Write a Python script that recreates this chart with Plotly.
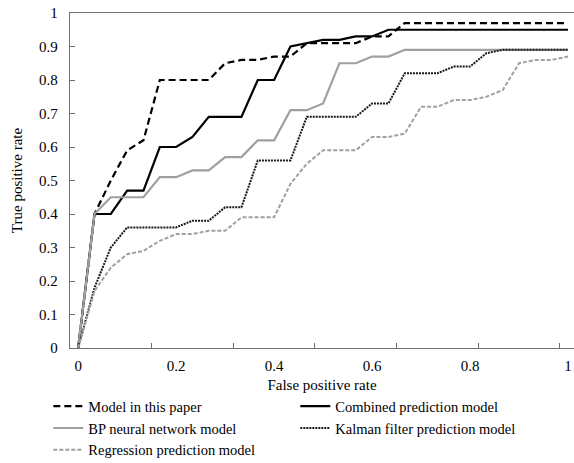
import plotly.graph_objects as go

# 31 evenly spaced false-positive-rate categories (0, 1/30, ..., 1)
n_points = 31
fpr = [k / 30 for k in range(n_points)]

model_paper = [0, 0.40, 0.50, 0.59, 0.62, 0.80, 0.80, 0.80, 0.80, 0.85, 0.86,
               0.86, 0.87, 0.87, 0.91, 0.91, 0.91, 0.91, 0.93, 0.93, 0.97,
               0.97, 0.97, 0.97, 0.97, 0.97, 0.97, 0.97, 0.97, 0.97, 0.97]
combined = [0, 0.40, 0.40, 0.47, 0.47, 0.60, 0.60, 0.63, 0.69, 0.69, 0.69,
            0.80, 0.80, 0.90, 0.91, 0.92, 0.92, 0.93, 0.93, 0.95, 0.95,
            0.95, 0.95, 0.95, 0.95, 0.95, 0.95, 0.95, 0.95, 0.95, 0.95]
bp_nn = [0, 0.40, 0.45, 0.45, 0.45, 0.51, 0.51, 0.53, 0.53, 0.57, 0.57,
         0.62, 0.62, 0.71, 0.71, 0.73, 0.85, 0.85, 0.87, 0.87, 0.89,
         0.89, 0.89, 0.89, 0.89, 0.89, 0.89, 0.89, 0.89, 0.89, 0.89]
kalman = [0, 0.18, 0.30, 0.36, 0.36, 0.36, 0.36, 0.38, 0.38, 0.42, 0.42,
          0.56, 0.56, 0.56, 0.69, 0.69, 0.69, 0.69, 0.73, 0.73, 0.82,
          0.82, 0.82, 0.84, 0.84, 0.88, 0.89, 0.89, 0.89, 0.89, 0.89]
regression = [0, 0.17, 0.24, 0.28, 0.29, 0.32, 0.34, 0.34, 0.35, 0.35, 0.39,
              0.39, 0.39, 0.49, 0.55, 0.59, 0.59, 0.59, 0.63, 0.63, 0.64,
              0.72, 0.72, 0.74, 0.74, 0.75, 0.77, 0.85, 0.86, 0.86, 0.87]

x_tick_vals = [0, 0.2, 0.4, 0.6, 0.8, 1]
x_tick_text = ["0", "0.2", "0.4", "0.6", "0.8", "1"]
y_tick_vals = [i / 10 for i in range(11)]
y_tick_text = ["0", "0.1", "0.2", "0.3", "0.4", "0.5", "0.6", "0.7", "0.8", "0.9", "1"]

series = [
    ("Model in this paper", model_paper, "#000000", "7px,4px", 2.2),
    ("Combined prediction model", combined, "#000000", "solid", 2.2),
    ("BP neural network model", bp_nn, "#a0a0a0", "solid", 2.2),
    ("Kalman filter prediction model", kalman, "#1a1a1a", "2px,1px", 2.0),
    ("Regression prediction model", regression, "#a0a0a0", "4px,2px", 2.0),
]

FONT = "Liberation Serif"
fig = go.Figure()
for name, vals, color, dash, w in series:
    fig.add_trace(go.Scatter(x=fpr, y=vals, mode="lines", name=name,
                             line=dict(color=color, dash=dash, width=w)))

# Excel-style category axis: tick marks between every 5th category
minor_ticks = [(k + 0.5) / 30 for k in range(4, 30, 5)]
axis_color = "#6f6f6f"

fig.update_layout(
    width=574, height=463,
    margin=dict(l=70, r=0, t=13, b=115, autoexpand=False),
    paper_bgcolor="white", plot_bgcolor="white",
    font=dict(family=FONT, size=15, color="#000000"),
    showlegend=True,
    legend=dict(orientation="h", x=-0.043, y=-0.126, xanchor="left", yanchor="top",
                entrywidth=202, entrywidthmode="pixels",
                font=dict(family=FONT, size=14.5), tracegroupgap=0,
                bgcolor="rgba(0,0,0,0)"),
    xaxis=dict(range=[-0.5 / 30, 1.0122], tickmode="array", tickvals=x_tick_vals,
               ticktext=x_tick_text, ticks="", showgrid=False, zeroline=False,
               showline=True, linecolor=axis_color, linewidth=1.3, mirror=True,
               automargin=False,
               tickfont=dict(family=FONT, size=15), ticklabelstandoff=4,
               minor=dict(tickmode="array", tickvals=minor_ticks, ticks="inside",
                          ticklen=5, tickcolor=axis_color, tickwidth=1.3, showgrid=False),
               title=dict(text="False positive rate", font=dict(family=FONT, size=15),
                          standoff=6)),
    yaxis=dict(range=[0, 1], tickmode="array", tickvals=y_tick_vals, ticktext=y_tick_text,
               ticks="inside", ticklen=5, tickcolor=axis_color, tickwidth=1.3,
               showgrid=False, zeroline=False, showline=True, linecolor=axis_color,
               linewidth=1.3, mirror=True, automargin=False,
               tickfont=dict(family=FONT, size=15), ticklabelstandoff=8,
               title=dict(text="True positive rate", font=dict(family=FONT, size=15),
                          standoff=12)),
)

fig.write_html("out.html", config={"displayModeBar": False},
               post_script="document.body.style.margin='0';")
